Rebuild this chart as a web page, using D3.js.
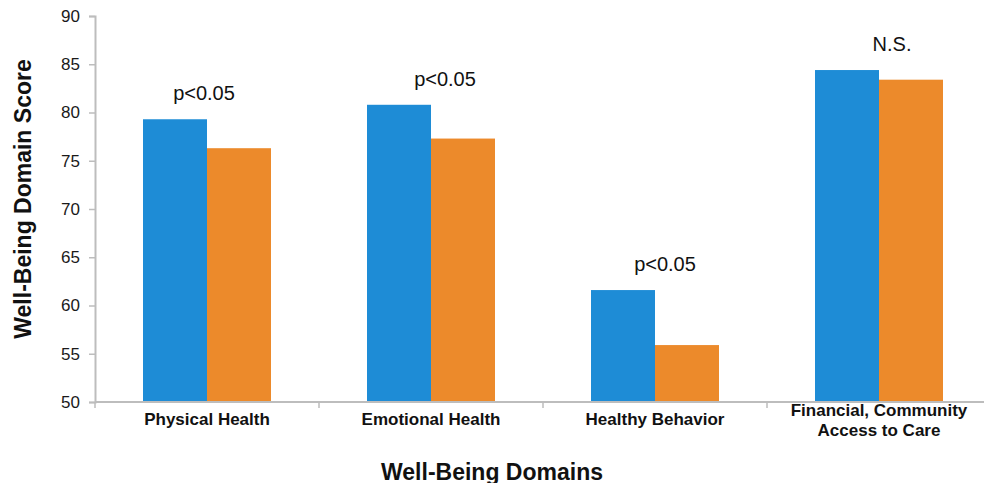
<!DOCTYPE html>
<html>
<head>
<meta charset="utf-8">
<script src="https://cdn.jsdelivr.net/npm/d3@7"></script>
<style>
  html, body { margin: 0; padding: 0; background: #fff; }
  svg text { font-family: "Liberation Sans", Arial, Helvetica, sans-serif; }
</style>
</head>
<body>
<svg id="chart" width="984" height="483"></svg>
<script>
// Well-being domain scores for two groups
const categories = [["Physical Health"], ["Emotional Health"], ["Healthy Behavior"], ["Financial, Community", "Access to Care"]];
const seriesA = [79.3, 80.8, 61.6, 84.4];
const seriesB = [76.3, 77.3, 55.9, 83.4];
const significance = ["p<0.05", "p<0.05", "p<0.05", "N.S."];
const yTicks = [50, 55, 60, 65, 70, 75, 80, 85, 90];

const colors = ["#1e8cd6", "#ec8a2b"];
const axisColor = "#bdbdbd";
const svg = d3.select("#chart");
const margin = { left: 95, right: -7, top: 16, bottom: 81 };
const W = 984, H = 483;

const x = d3.scaleBand().domain(d3.range(categories.length))
  .range([margin.left, W - margin.right]);
const bw = 64;
const y = d3.scaleLinear().domain([50, 90]).range([H - margin.bottom, margin.top]);

// Y axis
const yAxis = svg.append("g").attr("transform", `translate(${margin.left},0)`)
  .call(d3.axisLeft(y).tickValues(yTicks).tickSize(6).tickPadding(9));
yAxis.select(".domain").attr("stroke", axisColor).attr("stroke-width", 2);
yAxis.selectAll(".tick line").attr("stroke", axisColor).attr("stroke-width", 1.5);
yAxis.selectAll(".tick text").attr("font-size", 17).attr("fill", "#1a1a1a");

// Bars
const groups = svg.append("g").selectAll("g").data(categories).join("g");
groups.append("rect")
  .attr("x", (d, i) => x(i) + x.bandwidth() / 2 - bw)
  .attr("y", (d, i) => y(seriesA[i]))
  .attr("width", bw)
  .attr("height", (d, i) => y(50) - y(seriesA[i]))
  .attr("fill", colors[0]);
groups.append("rect")
  .attr("x", (d, i) => x(i) + x.bandwidth() / 2)
  .attr("y", (d, i) => y(seriesB[i]))
  .attr("width", bw)
  .attr("height", (d, i) => y(50) - y(seriesB[i]))
  .attr("fill", colors[1]);

// Significance labels above each pair (small horizontal nudges per group)
const labelNudge = [-3, 14, 10, 13];
groups.append("text")
  .attr("x", (d, i) => x(i) + x.bandwidth() / 2 + labelNudge[i])
  .attr("y", (d, i) => y(Math.max(seriesA[i], seriesB[i])) - 19)
  .attr("text-anchor", "middle")
  .attr("font-size", 20)
  .attr("fill", "#111")
  .text((d, i) => significance[i]);

// X axis with separators between domains
const xAxisG = svg.append("g").attr("transform", `translate(0,${y(50)})`);
xAxisG.append("line").attr("x1", margin.left).attr("x2", W - margin.right)
  .attr("stroke", axisColor).attr("stroke-width", 2);
xAxisG.selectAll(".sep").data(d3.range(categories.length + 1)).join("line")
  .attr("x1", i => margin.left + i * x.bandwidth())
  .attr("x2", i => margin.left + i * x.bandwidth())
  .attr("y1", 0).attr("y2", 6)
  .attr("stroke", axisColor).attr("stroke-width", 1.5);

const catLabels = xAxisG.selectAll(".cat").data(categories).join("text")
  .attr("text-anchor", "middle")
  .attr("font-size", 17)
  .attr("font-weight", "bold")
  .attr("fill", "#111")
  .attr("transform", (d, i) => `translate(${x(i) + x.bandwidth() / 2},${d.length > 1 ? 14 : 23})`);
catLabels.selectAll("tspan").data(d => d).join("tspan")
  .attr("x", 0).attr("dy", (d, j) => j === 0 ? 0 : 19.5).text(d => d);

// Axis titles
svg.append("text")
  .attr("x", 492).attr("y", 479.5)
  .attr("text-anchor", "middle")
  .attr("font-size", 23).attr("font-weight", "bold").attr("fill", "#111")
  .text("Well-Being Domains");
svg.append("text")
  .attr("transform", `translate(31,199) rotate(-90)`)
  .attr("text-anchor", "middle")
  .attr("font-size", 23).attr("font-weight", "bold").attr("fill", "#111")
  .text("Well-Being Domain Score");
</script>
</body>
</html>
